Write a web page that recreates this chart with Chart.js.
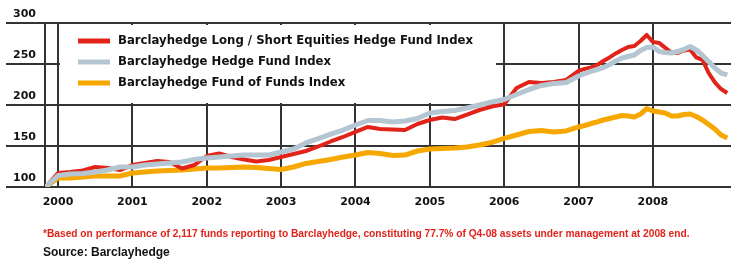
<!DOCTYPE html>
<html><head><meta charset="utf-8">
<script src="https://cdn.jsdelivr.net/npm/chart.js@4/dist/chart.umd.min.js"></script>
<style>
html,body{margin:0;padding:0;background:#fff;}
#wrap{position:relative;width:748px;height:260px;overflow:hidden;}
canvas{position:absolute;left:0;top:0;}
.note{position:absolute;left:43px;font-family:"Liberation Sans",Arial,sans-serif;font-weight:bold;line-height:12px;white-space:nowrap;}
</style></head><body>
<div id="wrap"><canvas id="c" width="748" height="260"></canvas>
<div class="note" style="top:228px;color:#e2231a;font-size:10.2px">*Based on performance of 2,117 funds reporting to Barclayhedge, constituting 77.7% of Q4-08 assets under management at 2008 end.</div>
<div class="note" style="top:246px;color:#111;font-size:12px">Source: Barclayhedge</div>
</div>
<script>
// months since January 2000
const months = [-2,0,2,4,6,8,10,12,14,16,18,20,22,24,26,28,30,32,34,36,38,40,42,44,46,48,50,52,54,56,58,60,62,64,66,68,70,72,74,76,78,80,82,84,
85,86,87,88,89,90,91,92,93,94,95,96,97,98,99,100,101,102,103,104,105,106,107,108];

const seriesNames = [
  'Barclayhedge Long / Short Equities Hedge Fund Index',
  'Barclayhedge Hedge Fund Index',
  'Barclayhedge Fund of Funds Index'
];

const longShort = [100,117.1,118.3,120.1,124.4,123.2,120.7,126.8,129.3,131.7,130.5,122.6,126.8,137.8,140.9,136.6,133.5,131.1,132.9,136.6,140.2,143.9,149.4,155.5,161,167.1,173.2,170.7,170.1,169.5,176.8,181.7,184.8,182.9,188.4,193.9,198.2,201,220.7,228,226.8,228,230.5,241.5,
244,245.8,248.8,253.7,258,262.9,267,270.8,272,278,285.4,277,275.7,269.6,263.5,263.5,266.5,267.7,258,255,239,227.5,219.5,214.7];

const hedgeFund = [100,114,115.9,116.5,118.3,120.7,124.4,124.4,126.8,128,129.3,130.5,133.5,135.4,136.6,137.8,139,139,139,142.7,146.3,153.7,159.1,164.6,169.5,175.6,181.1,181.1,179.3,180.5,183.5,190.2,192.1,193.3,196.3,200,203.7,206.7,212.8,218.9,223.8,226.2,227.4,235.4,
238.4,240.9,243.3,245.7,249.4,253.7,257.3,259.1,261,266.5,270.1,270.7,265.2,264,263.4,265.2,267.7,271.3,267.1,260.4,253,245.1,239,236.6];

const fundOfFunds = [100,111,111,112.2,113.4,113.4,113.4,117.1,118.3,119.5,120.1,120.7,122,123.2,123.2,123.8,124.4,123.8,122.6,121.3,124.4,128.7,131.1,133.5,136.6,139,142.1,140.9,138.4,139,143.9,146.3,147,147.6,148.8,151.2,154.3,159.2,163.4,167.7,168.9,167.1,168.3,173.2,
175,177.4,179.3,181.7,183.5,185.4,187.2,186.6,185.4,189,195.7,192.7,191.5,190.2,186.6,186.6,188.4,189,186,181.7,176.2,170.7,163.4,159.8];

const yearTicks = [0,12,24,36,48,60,72,84,96];
const yearLabels = ['2000','2001','2002','2003','2004','2005','2006','2007','2008'];
const valueTicks = [100,150,200,250,300];

const FONT = '"DejaVu Sans", Arial, sans-serif';
const pts = arr => arr.map((v,i)=>({x:months[i], y:v}));

const legendBox = {
  id:'legendBox',
  beforeDatasetsDraw(chart){
    const ctx = chart.ctx;
    ctx.save();
    ctx.fillStyle = '#fff';
    ctx.fillRect(60,25,436,78);
    ctx.font = 'bold 11.7px ' + FONT;
    ctx.textBaseline = 'middle';
    chart.data.datasets.forEach((ds,i)=>{
      const y = 41 + i*21;
      ctx.strokeStyle = ds.borderColor;
      ctx.lineWidth = 5;
      ctx.beginPath(); ctx.moveTo(78,y); ctx.lineTo(110,y); ctx.stroke();
      ctx.fillStyle = '#111';
      ctx.fillText(ds.label,118,y);
    });
    ctx.restore();
  }
};

new Chart(document.getElementById('c'), {
  type:'line',
  data:{
    datasets:[
      {label:seriesNames[0], data:pts(longShort), borderColor:'#e2231a', borderWidth:4, order:1},
      {label:seriesNames[1], data:pts(hedgeFund), borderColor:'#b3c6d1', borderWidth:5, order:0},
      {label:seriesNames[2], data:pts(fundOfFunds), borderColor:'#f6a800', borderWidth:5, order:2}
    ]
  },
  options:{
    responsive:false,
    animation:false,
    layout:{padding:{left:13, top:23, right:17, bottom:51}},
    elements:{point:{radius:0}, line:{tension:0, borderJoinStyle:'round'}},
    plugins:{legend:{display:false}, tooltip:{enabled:false}},
    scales:{
      x:{
        type:'linear', min:-2.1, max:108.6,
        afterBuildTicks: s => { s.ticks = yearTicks.map(v=>({value:v})); },
        afterFit: s => { s.height = 22; },
        border:{display:false},
        grid:{color:'#333', lineWidth:2, drawTicks:false},
        ticks:{
          callback: v => yearLabels[yearTicks.indexOf(v)],
          padding:9, maxRotation:0, autoSkip:false,
          color:'#111', font:{family:FONT, weight:'bold', size:11}
        }
      },
      y:{
        min:100, max:300,
        afterBuildTicks: s => { s.ticks = valueTicks.map(v=>({value:v})); },
        afterFit: s => { s.width = 32; },
        border:{display:true, color:'#333', width:2},
        grid:{color:'#333', lineWidth:2, tickLength:39, drawTicks:true},
        ticks:{crossAlign:'far', labelOffset:-9, padding:0, color:'#111',
          font:{family:FONT, weight:'bold', size:11}}
      }
    }
  },
  plugins:[legendBox]
});
</script>
</body></html>
